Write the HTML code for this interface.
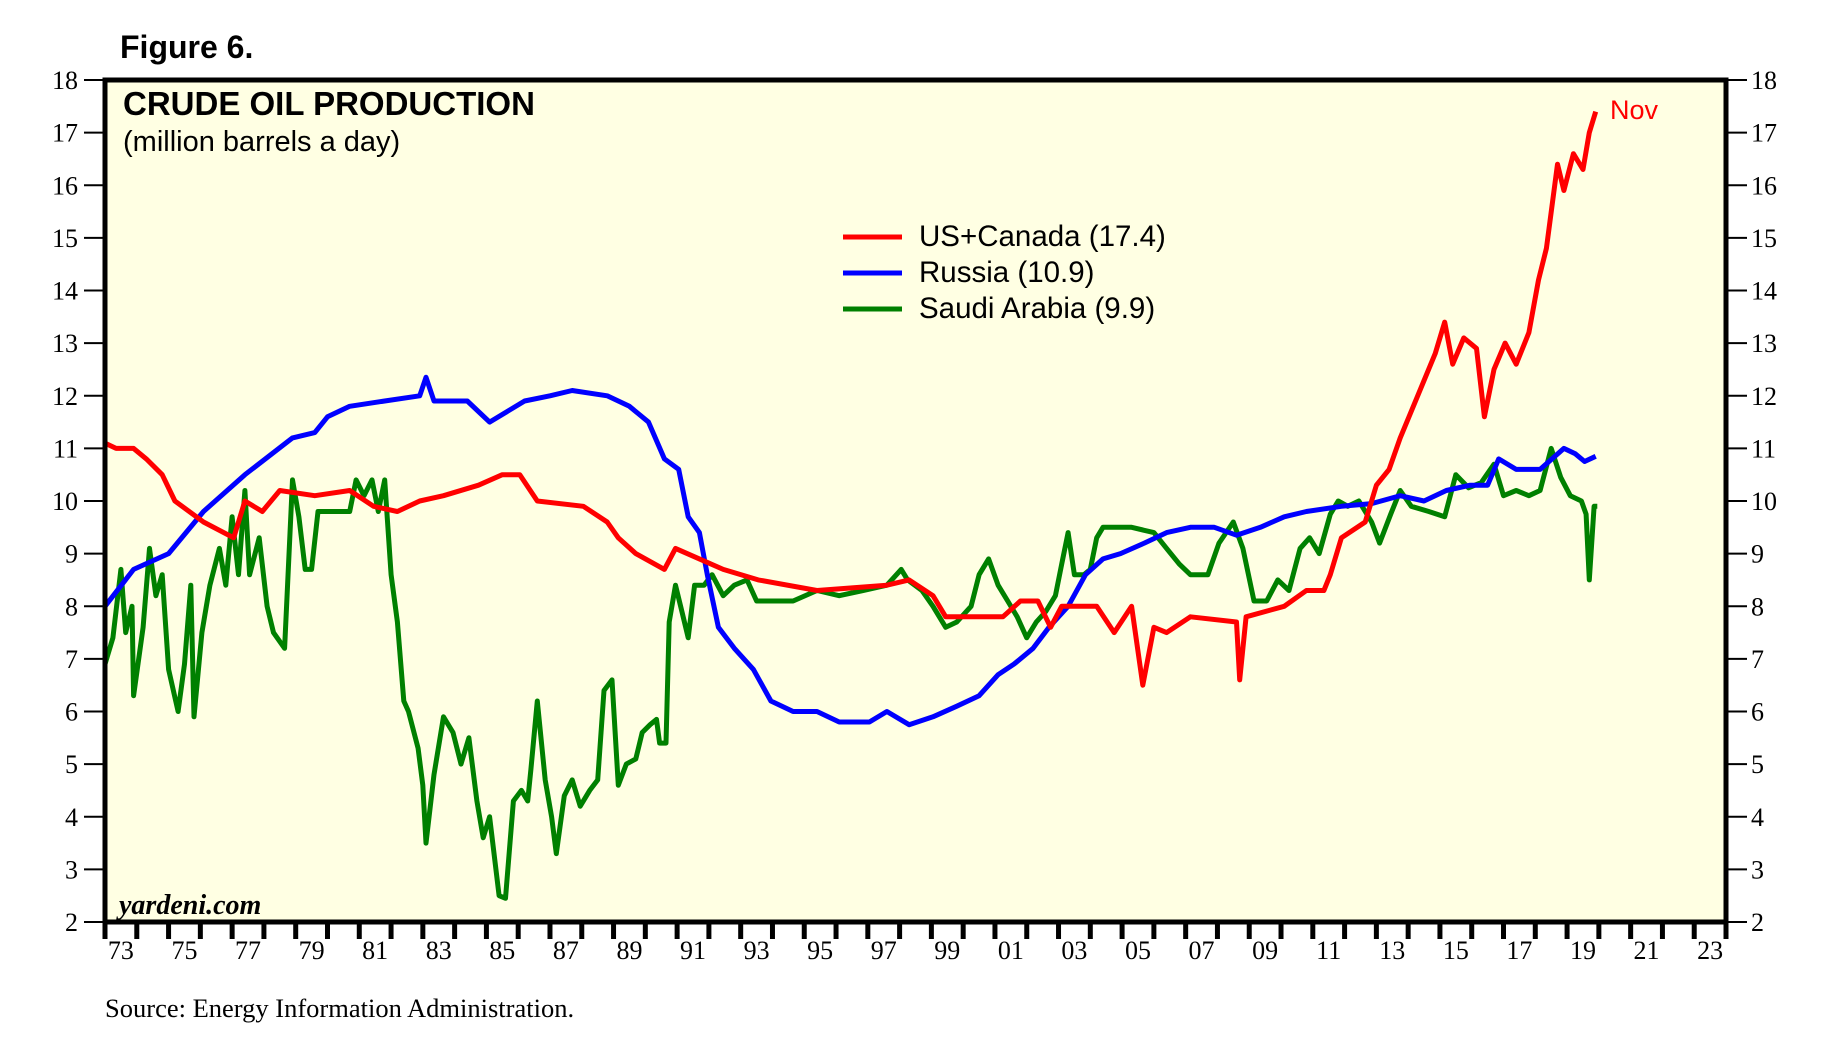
<!DOCTYPE html>
<html><head><meta charset="utf-8"><style>
body{margin:0;background:#fff;}
svg{display:block;}
</style></head><body>
<svg id="chart" width="1827" height="1050" xmlns="http://www.w3.org/2000/svg">
<text x="120" y="58" font-family="Liberation Sans, sans-serif" font-weight="bold" font-size="32">Figure 6.</text>
<rect x="105" y="80" width="1621" height="842" fill="#FFFFE3"/>
<g id="grid"></g>
<g id="series"></g>
<rect x="105" y="80" width="1621" height="842" fill="none" stroke="#000" stroke-width="5"/>
<text x="123" y="115" font-family="Liberation Sans, sans-serif" font-weight="bold" font-size="33">CRUDE OIL PRODUCTION</text>
<text x="123" y="151" font-family="Liberation Sans, sans-serif" font-size="29">(million barrels a day)</text>
<g font-family="Liberation Sans, sans-serif" font-size="29.5">
<line x1="843" y1="237" x2="902" y2="237" stroke="#ff0000" stroke-width="5"/>
<text x="919" y="246">US+Canada (17.4)</text>
<line x1="843" y1="273" x2="902" y2="273" stroke="#0000ff" stroke-width="5"/>
<text x="919" y="282">Russia (10.9)</text>
<line x1="843" y1="309" x2="902" y2="309" stroke="#008000" stroke-width="5"/>
<text x="919" y="318">Saudi Arabia (9.9)</text>
</g>
<text x="1610" y="119" fill="#ff0000" font-family="Liberation Sans, sans-serif" font-size="27">Nov</text>
<text x="119" y="914" font-family="Liberation Serif, serif" font-style="italic" font-weight="bold" font-size="28">yardeni.com</text>
<text x="105" y="1017" font-family="Liberation Serif, serif" font-size="26.5">Source: Energy Information Administration.</text>
</svg>
<script>
const yTicks=[2,3,4,5,6,7,8,9,10,11,12,13,14,15,16,17,18];
const xLabels=["73","75","77","79","81","83","85","87","89","91","93","95","97","99","01","03","05","07","09","11","13","15","17","19","21","23"];
const usYears=[1973,1973.35,1973.9,1974.3,1974.8,1975.2,1976.1,1977.05,1977.4,1977.95,1978.5,1979.6,1980.7,1981.45,1982.2,1982.9,1983.65,1984.75,1985.5,1986.05,1986.6,1988.05,1988.8,1989.15,1989.7,1990.6,1990.95,1991.7,1992.45,1993.55,1995.4,1997.6,1998.3,1999.05,1999.45,2001.25,2001.8,2002.35,2002.75,2003.1,2004.2,2004.75,2005.3,2005.65,2006.0,2006.4,2007.15,2008.6,2008.7,2008.9,2010.1,2010.8,2011.35,2011.55,2011.9,2012.65,2013.0,2013.4,2013.75,2014.3,2014.85,2015.15,2015.4,2015.75,2016.15,2016.4,2016.7,2017.05,2017.4,2017.8,2018.1,2018.35,2018.7,2018.9,2019.2,2019.5,2019.7,2019.9];
const usVals=[11.1,11.0,11.0,10.8,10.5,10.0,9.6,9.3,10.0,9.8,10.2,10.1,10.2,9.9,9.8,10.0,10.1,10.3,10.5,10.5,10.0,9.9,9.6,9.3,9.0,8.7,9.1,8.9,8.7,8.5,8.3,8.4,8.5,8.2,7.8,7.8,8.1,8.1,7.6,8.0,8.0,7.5,8.0,6.5,7.6,7.5,7.8,7.7,6.6,7.8,8.0,8.3,8.3,8.6,9.3,9.6,10.3,10.6,11.2,12.0,12.8,13.4,12.6,13.1,12.9,11.6,12.5,13.0,12.6,13.2,14.2,14.8,16.4,15.9,16.6,16.3,17.0,17.4];
const ruYears=[1973,1973.9,1975.0,1976.1,1977.4,1978.9,1979.6,1980.0,1980.7,1981.8,1982.9,1983.1,1983.35,1984.4,1985.1,1986.2,1987.0,1987.7,1988.8,1989.5,1990.1,1990.6,1991.05,1991.35,1991.7,1991.95,1992.3,1992.8,1993.4,1993.95,1994.65,1995.4,1996.1,1997.05,1997.6,1998.3,1999.05,1999.8,2000.5,2001.1,2001.6,2002.2,2002.7,2003.3,2003.85,2004.4,2004.95,2005.7,2006.4,2007.15,2007.9,2008.6,2009.35,2010.1,2010.8,2011.9,2012.85,2013.75,2014.5,2015.2,2015.95,2016.5,2016.85,2017.4,2018.15,2018.9,2019.25,2019.55,2019.9];
const ruVals=[8.0,8.7,9.0,9.8,10.5,11.2,11.3,11.6,11.8,11.9,12.0,12.35,11.9,11.9,11.5,11.9,12.0,12.1,12.0,11.8,11.5,10.8,10.6,9.7,9.4,8.6,7.6,7.2,6.8,6.2,6.0,6.0,5.8,5.8,6.0,5.75,5.9,6.1,6.3,6.7,6.9,7.2,7.6,8.0,8.6,8.9,9.0,9.2,9.4,9.5,9.5,9.35,9.5,9.7,9.8,9.9,9.95,10.1,10.0,10.2,10.3,10.3,10.8,10.6,10.6,11.0,10.9,10.75,10.85];
const saYears=[1973.0,1973.25,1973.5,1973.65,1973.85,1973.9,1974.2,1974.4,1974.6,1974.8,1975.0,1975.3,1975.5,1975.7,1975.8,1976.05,1976.3,1976.6,1976.8,1977.0,1977.2,1977.4,1977.55,1977.85,1978.1,1978.3,1978.65,1978.9,1979.1,1979.3,1979.5,1979.7,1980.35,1980.7,1980.9,1981.15,1981.4,1981.6,1981.8,1982.0,1982.2,1982.4,1982.55,1982.85,1983.0,1983.1,1983.35,1983.65,1983.95,1984.2,1984.45,1984.7,1984.9,1985.1,1985.4,1985.6,1985.85,1986.1,1986.3,1986.4,1986.6,1986.85,1987.05,1987.2,1987.45,1987.7,1987.95,1988.25,1988.5,1988.7,1988.95,1989.15,1989.4,1989.7,1989.9,1990.15,1990.35,1990.45,1990.65,1990.75,1990.95,1991.15,1991.35,1991.55,1991.85,1992.1,1992.45,1992.8,1993.2,1993.5,1993.9,1994.65,1995.4,1996.1,1996.85,1997.6,1998.05,1998.25,1998.7,1999.05,1999.45,1999.8,2000.25,2000.5,2000.8,2001.1,2001.4,2001.7,2002.0,2002.3,2002.6,2002.9,2003.1,2003.3,2003.5,2003.8,2004.0,2004.2,2004.4,2005.3,2006.0,2006.4,2006.8,2007.15,2007.7,2008.05,2008.5,2008.8,2009.15,2009.55,2009.9,2010.25,2010.6,2010.9,2011.2,2011.55,2011.8,2012.1,2012.45,2012.85,2013.1,2013.45,2013.75,2014.1,2014.65,2015.15,2015.5,2015.9,2016.3,2016.7,2017.0,2017.4,2017.8,2018.15,2018.5,2018.8,2019.1,2019.45,2019.6,2019.7,2019.85,2019.95];
const saVals=[6.9,7.4,8.7,7.5,8.0,6.3,7.6,9.1,8.2,8.6,6.8,6.0,6.9,8.4,5.9,7.5,8.4,9.1,8.4,9.7,8.6,10.2,8.6,9.3,8.0,7.5,7.2,10.4,9.7,8.7,8.7,9.8,9.8,9.8,10.4,10.1,10.4,9.8,10.4,8.6,7.7,6.2,6.0,5.3,4.6,3.5,4.8,5.9,5.6,5.0,5.5,4.3,3.6,4.0,2.5,2.45,4.3,4.5,4.3,4.9,6.2,4.7,4.0,3.3,4.4,4.7,4.2,4.5,4.7,6.4,6.6,4.6,5.0,5.1,5.6,5.75,5.85,5.4,5.4,7.7,8.4,7.9,7.4,8.4,8.4,8.6,8.2,8.4,8.5,8.1,8.1,8.1,8.3,8.2,8.3,8.4,8.7,8.5,8.3,8.0,7.6,7.7,8.0,8.6,8.9,8.4,8.1,7.8,7.4,7.7,7.9,8.2,8.8,9.4,8.6,8.6,8.7,9.3,9.5,9.5,9.4,9.1,8.8,8.6,8.6,9.2,9.6,9.1,8.1,8.1,8.5,8.3,9.1,9.3,9.0,9.75,10.0,9.9,10.0,9.6,9.2,9.75,10.2,9.9,9.8,9.7,10.5,10.25,10.35,10.7,10.1,10.2,10.1,10.2,11.0,10.45,10.1,10.0,9.75,8.5,9.9,9.9];

const L=105,R=1726,T=80,B=922,Y0=1973,Y1=2024,V0=2,V1=18;
function xs(y){return L+(y-Y0)/(Y1-Y0)*(R-L);}
function ys(v){return B-(v-V0)/(V1-V0)*(B-T);}
const NS="http://www.w3.org/2000/svg";
const svg=document.getElementById('chart');
const grid=document.getElementById('grid');
function mk(tag,attrs,parent){const e=document.createElementNS(NS,tag);for(const k in attrs)e.setAttribute(k,attrs[k]);(parent||svg).appendChild(e);return e;}
yTicks.forEach(v=>{
  const y=ys(v);
  let t=mk('line',{x1:84,x2:L,y1:y,y2:y,stroke:'#000','stroke-width':2});
  
  
  let t2=mk('line',{x1:R,x2:R+21,y1:y,y2:y,stroke:'#000','stroke-width':2});
  
  
  let a=mk('text',{x:78,y:y+9,'text-anchor':'end','font-family':'Liberation Serif, serif','font-size':26});
  a.textContent=v;
  
  
  let b=mk('text',{x:R+25,y:y+9,'font-family':'Liberation Serif, serif','font-size':26});
  b.textContent=v;
  
  
});
for(let yr=Y0;yr<=Y1;yr++){
  const x=xs(yr);
  let t=mk('line',{x1:x,x2:x,y1:B,y2:B+17,stroke:'#000','stroke-width':5});
  
  
}
xLabels.forEach((lab,i)=>{
  const yr=Y0+2*i;
  let a=mk('text',{x:xs(yr+0.5),y:B+37,'text-anchor':'middle','font-family':'Liberation Serif, serif','font-size':26});
  a.textContent=lab;
  
  
});
const sg=document.getElementById('series');
function line(yrs,vals,color,name){
  const d=yrs.map((y,i)=>(i?'L':'M')+xs(y).toFixed(1)+' '+ys(vals[i]).toFixed(1)).join(' ');
  const p=mk('path',{d:d,fill:'none',stroke:color,'stroke-width':5,'stroke-linejoin':'round'},sg);
  
  
}
line(saYears,saVals,'#008000','series-saudi-arabia');
line(ruYears,ruVals,'#0000ff','series-russia');
line(usYears,usVals,'#ff0000','series-us-canada');
</script>
</body></html>
